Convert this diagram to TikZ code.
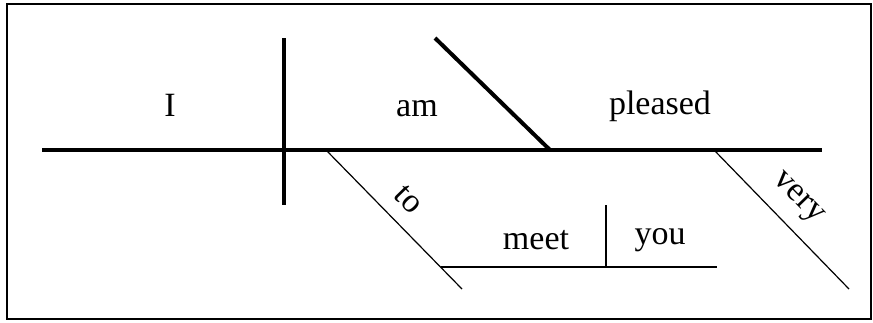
\documentclass[tikz,border=0pt]{standalone}
\usepackage{fontspec}
\setmainfont{Liberation Serif}
\usetikzlibrary{positioning, calc}

\begin{document}
\begin{tikzpicture}[x=1pt, y=-1pt,
    heavy/.style={line width=4pt},
    light/.style={line width=1.2pt},
    word/.style={font=\fontsize{34}{40}\selectfont, inner sep=0pt, anchor=base}]
    \useasboundingbox (0,0) rectangle (873,322);
    \draw[line width=2pt] (7,4) rectangle (871,319);

    % base line and dividers
    \coordinate (basewest) at (42,150);
    \coordinate (baseeast) at (822,150);
    \coordinate (subjtop) at (284,38);
    \coordinate (subjbot) at (284,205);
    \coordinate (comptop) at (435,38);
    \coordinate (compfoot) at (550,150);

    % modifiers below the line
    \coordinate (totop) at (326,150);
    \coordinate (toend) at (462,289);
    \coordinate (infwest) at (440.5,267);
    \coordinate (infeast) at (717,267);
    \coordinate (objtop) at (606,205);
    \coordinate (objfoot) at (606,267);
    \coordinate (verytop) at (714,150);
    \coordinate (veryend) at (849,289);

    \node[word] (subject) at (170,116) {I};
    \node[word] (verb) at (417,116) {am};
    \node[word] (complement) at (660,114) {pleased};
    \node[word] (infinitive) at (536,249) {meet};
    \node[word] (object) at (660,244) {you};

    \draw[heavy] (basewest) -- (baseeast);
    \draw[heavy] (subjtop) -- (subjbot);
    \draw[heavy] (comptop) -- (compfoot);

    \draw[light] (totop) -- (toend)
        node[pos=0.48, sloped, above=14pt, inner sep=0pt, font=\fontsize{34}{40}\selectfont] (prep) {to};
    \draw[light] (infwest) -- (infeast);
    \draw[light] (objtop) -- (objfoot);
    \draw[light] (verytop) -- (veryend)
        node[pos=0.48, sloped, above=13pt, inner sep=0pt, font=\fontsize{34}{40}\selectfont] (adverb) {very};
\end{tikzpicture}
\end{document}
